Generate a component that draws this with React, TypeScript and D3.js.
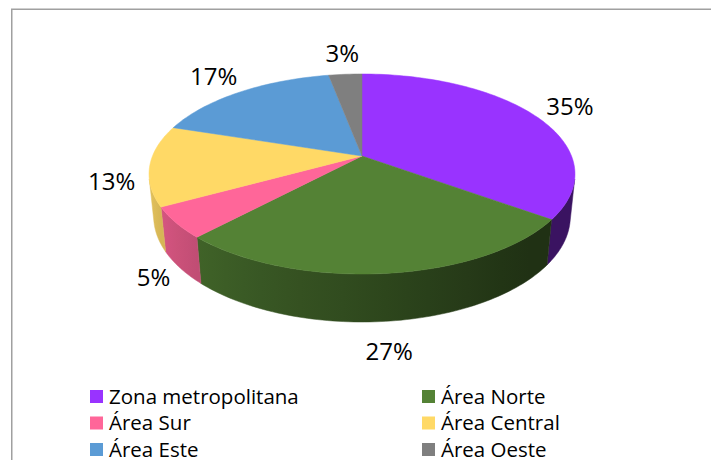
import React from "react";
import * as d3 from "d3";

const categories = ["Zona metropolitana", "Área Norte", "Área Sur", "Área Central", "Área Este", "Área Oeste"];
const values = [35, 27, 5, 13, 17, 3];
const labels = ["35%", "27%", "5%", "13%", "17%", "3%"];
const colors = ["#9933FF", "#548235", "#FF6699", "#FFD966", "#5B9BD5", "#7F7F7F"];

const W = 711;
const H = 460;
const CX = 362;
const CY = 156;
const F = 1032;
const DIST = 4.926;
const PHI = Math.asin(0.462);
const DEPTH = 0.231;
const FONT = "'Open Sans', 'Noto Sans', sans-serif";
const LABEL_SIZE = 24;
const LEGEND_SIZE = 20.5;

function project(theta: number, r: number, y: number): [number, number] {
  const X = r * Math.sin(theta);
  const Z = -r * Math.cos(theta);
  const v = y * Math.cos(PHI) - Z * Math.sin(PHI);
  const d = DIST - (y * Math.sin(PHI) + Z * Math.cos(PHI));
  return [CX + (F * X) / d, CY - (F * v) / d];
}

function shade(thetaRad: number): number {
  const deg = (thetaRad * 180) / Math.PI;
  const t = Math.max(0, Math.min(1, (deg - 140) / 110));
  return 0.38 + 0.5 * t;
}

function darker(c: string, k: number): string {
  const rgb = d3.rgb(c);
  return d3.rgb(rgb.r * k, rgb.g * k, rgb.b * k).formatHex();
}

export default function App() {
  const pie = d3.pie<number>().sort(null).startAngle(0).endAngle(2 * Math.PI);
  const arcs = pie(values);
  const c = 1 / (DIST * Math.cos(PHI));
  const tMin = Math.acos(-c);
  const tMax = 2 * Math.PI - tMin;
  const N = 80;
  const line = d3.line();

  const walls = arcs
    .map((a, i) => {
      const t0 = Math.max(a.startAngle, tMin);
      const t1 = Math.min(a.endAngle, tMax);
      if (t1 <= t0) return null;
      const ts = d3.range(N + 1).map((k) => t0 + ((t1 - t0) * k) / N);
      const top = ts.map((t) => project(t, 1, 0));
      const bot = ts.slice().reverse().map((t) => project(t, 1, -DEPTH));
      const path = line([...top, ...bot])! + "Z";
      const xs = top.map((p) => p[0]);
      const xL = Math.min(...xs);
      const xR = Math.max(...xs);
      const stops = ts
        .filter((_, k) => k % 8 === 0 || k === N)
        .map((t) => {
          const x = project(t, 1, 0)[0];
          return { offset: xR > xL ? (x - xL) / (xR - xL) : 0, color: darker(colors[i], shade(t)) };
        })
        .sort((p, q) => p.offset - q.offset);
      return { i, path, xL, xR, stops };
    })
    .filter((w) => w !== null) as { i: number; path: string; xL: number; xR: number; stops: { offset: number; color: string }[] }[];

  const tops = arcs.map((a, i) => {
    const n = Math.max(4, Math.ceil(((a.endAngle - a.startAngle) / (2 * Math.PI)) * 240));
    const pts = d3.range(n + 1).map((k) => project(a.startAngle + ((a.endAngle - a.startAngle) * k) / n, 1, 0));
    const path = line([project(0, 0, 0), ...pts])! + "Z";
    return { i, path };
  });

  const gapX = 16;
  const labelPos = arcs.map((a, i) => {
    const m = (a.startAngle + a.endAngle) / 2;
    const front = Math.max(0, -Math.cos(m));
    const [x, y] = project(m, 1, -DEPTH * Math.sqrt(front));
    const txt = labels[i];
    const w = LABEL_SIZE * (0.572 * (txt.length - 1) + 0.829);
    const hh = LABEL_SIZE * 0.714;
    const gapY = Math.cos(m) > 0 ? 12 : 22;
    const lx = x + (gapX + w / 2) * Math.sin(m);
    const ly = y + (gapY + hh / 2) * -Math.cos(m);
    return { x: lx, y: ly + hh / 2, txt };
  });

  const legX0 = 90;
  const legColW = 332;
  const legY0 = 390;
  const legRowH = 26.5;
  const sq = 13;

  return (
    <svg width={W} height={H} style={{ position: "absolute", left: 0, top: 0, background: "#fff" }} fontFamily={FONT}>
      <defs>
        {walls.map((w) => (
          <linearGradient key={w.i} id={`wall${w.i}`} gradientUnits="userSpaceOnUse" x1={w.xL} y1={0} x2={w.xR} y2={0}>
            {w.stops.map((s, k) => (
              <stop key={k} offset={s.offset} stopColor={s.color} />
            ))}
          </linearGradient>
        ))}
      </defs>
      <rect x={11.75} y={9.25} width={800} height={600} fill="#fff" stroke="#a0a0a0" strokeWidth={1.5} />
      {walls.map((w) => (
        <path key={`w${w.i}`} d={w.path} fill={`url(#wall${w.i})`} stroke={`url(#wall${w.i})`} strokeWidth={0.5} />
      ))}
      {tops.map((t) => (
        <path key={`t${t.i}`} d={t.path} fill={colors[t.i]} stroke={colors[t.i]} strokeWidth={0.5} strokeLinejoin="round" />
      ))}
      {labelPos.map((l, i) => (
        <text key={`l${i}`} x={l.x} y={l.y} textAnchor="middle" fontSize={LABEL_SIZE} fill="#000">
          {l.txt}
        </text>
      ))}
      {categories.map((cat, i) => {
        const col = i % 2;
        const row = Math.floor(i / 2);
        const x = legX0 + col * legColW;
        const y = legY0 + row * legRowH;
        return (
          <g key={`lg${i}`}>
            <rect x={x} y={y} width={sq} height={sq} fill={colors[i]} />
            <text x={x + sq + 6} y={y + sq + 0.5} fontSize={LEGEND_SIZE} fill="#000">
              {cat}
            </text>
          </g>
        );
      })}
    </svg>
  );
}
